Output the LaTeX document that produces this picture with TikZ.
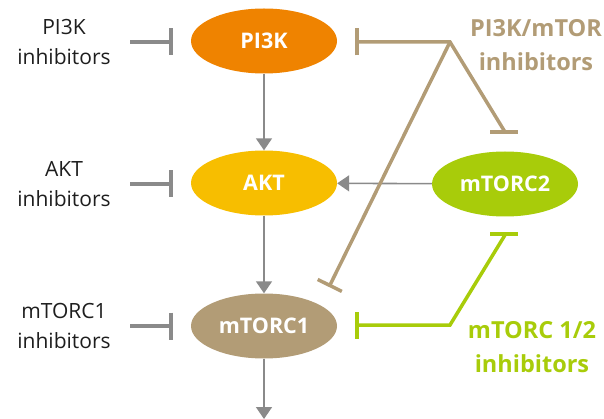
\documentclass[tikz,border=0pt]{standalone}
\usepackage{fontspec}
\setmainfont{Open Sans}
\usetikzlibrary{arrows.meta,shapes.geometric}
\definecolor{cOrange}{RGB}{239,131,0}
\definecolor{cYellow}{RGB}{247,190,0}
\definecolor{cTan}{RGB}{178,156,118}
\definecolor{cGreen}{RGB}{168,204,10}
\definecolor{cGray}{RGB}{138,138,138}
\definecolor{cText}{RGB}{30,30,30}
\tikzset{
  mol/.style={ellipse, draw=none, minimum width=146pt, minimum height=65pt, inner sep=0pt,
    text=white, font=\fontsize{21.5}{24}\selectfont\bfseries},
  lbl/.style={align=center, text=cText, font=\fontsize{21}{30}\selectfont, inner sep=0pt},
  rlbl/.style={align=center, font=\fontsize{23.5}{34}\selectfont\bfseries, inner sep=0pt},
  flow/.style={draw=cGray, line width=1.6pt, -{Triangle[width=16pt,length=12pt]}},
  ginh/.style={draw=cGray, line width=4pt, -{Bar[width=27pt]}},
  taninh/.style={draw=cTan, line width=3.5pt},
  greeninh/.style={draw=cGreen, line width=3.5pt},
}
\begin{document}
\begin{tikzpicture}[x=1pt,y=-1pt]
\useasboundingbox (0,0) rectangle (604,419);

% molecules
\node[mol, fill=cOrange] (pi3k) at (264,41) {PI3K};
\node[mol, fill=cYellow] (akt) at (264,183) {AKT};
\node[mol, fill=cTan] (mtorc1) at (264,326) {mTORC1};
\node[mol, fill=cGreen] (mtorc2) at (505,184) {mTORC2};

% left labels
\node[lbl] (lp) at (64,42) {PI3K\\inhibitors};
\node[lbl] (la) at (64,184) {AKT\\inhibitors};
\node[lbl] (lm) at (64,326) {mTORC1\\inhibitors};

% right labels
\node[rlbl, text=cTan] (rt) at (536,45) {PI3K/mTOR\\inhibitors};
\node[rlbl, text=cGreen] (rg) at (532,347) {mTORC 1/2\\inhibitors};

% coordinates
\coordinate (ps) at (130,42);  \coordinate (pe) at (173,42);
\coordinate (as) at (130,184); \coordinate (ae) at (173,184);
\coordinate (ms) at (130,326); \coordinate (me) at (173,326);
\coordinate (bottom) at (264,419);
\coordinate (tb1) at (355,42);
\coordinate (tj) at (450,42);
\coordinate (tb2) at (505,132);
\coordinate (tb2l) at (490,132); \coordinate (tb2r) at (518,132);
\coordinate (tb3) at (329,287);
\coordinate (gb1) at (355,325);
\coordinate (gj) at (450,325);
\coordinate (gb2) at (505,235);
\coordinate (gb2l) at (490,234); \coordinate (gb2r) at (518,234);

% pathway arrows
\draw[flow] (pi3k) -- (akt);
\draw[flow] (akt) -- (mtorc1);
\draw[flow] (mtorc1) -- (bottom);
\draw[flow] (mtorc2) -- (akt);

% gray inhibitors
\draw[ginh] (ps) -- (pe);
\draw[ginh] (as) -- (ae);
\draw[ginh] (ms) -- (me);

% tan inhibitors
\draw[taninh, {Bar[width=27pt]}-] (tb1) -- (tj) -- (tb2);
\draw[taninh] (tb2l) -- (tb2r);
\draw[taninh, -{Bar[width=27pt]}] (tj) -- (tb3);

% green inhibitors
\draw[greeninh, {Bar[width=27pt]}-] (gb1) -- (gj) -- (gb2);
\draw[greeninh] (gb2l) -- (gb2r);
\end{tikzpicture}
\end{document}
